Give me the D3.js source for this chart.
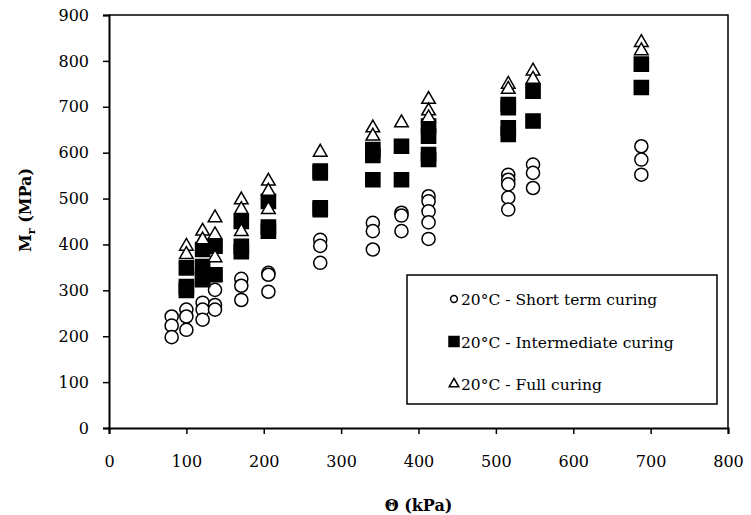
<!DOCTYPE html>
<html>
<head>
<meta charset="utf-8">
<script src="https://cdn.jsdelivr.net/npm/d3@7"></script>
<style>
  body { margin: 0; background: #fff; }
</style>
</head>
<body>
<div id="svg-container"></div>
<script>
/* series data: bulk stress (kPa) and resilient modulus (MPa) */
var shortX = [81, 81, 81, 100, 100, 100, 121, 121, 121, 137, 137, 137, 171, 171, 171, 206, 206, 206,
  273, 273, 273, 341, 341, 341, 378, 378, 378, 413, 413, 413, 413, 413, 516, 516, 516, 516, 516,
  548, 548, 548, 688, 688, 688];
var shortY = [243, 223, 198, 258, 243, 214, 273, 258, 236, 301, 268, 258, 325, 310, 279, 338, 334, 297,
  410, 397, 360, 447, 429, 389, 469, 463, 429, 505, 494, 472, 448, 412, 552, 541, 531, 502, 476,
  574, 556, 523, 614, 585, 552];

var interX = [100, 100, 100, 121, 121, 121, 121, 137, 137, 171, 171, 171, 206, 206, 206,
  273, 273, 273, 273, 341, 341, 341, 378, 378, 413, 413, 413, 413, 516, 516, 516, 516,
  548, 548, 688, 688];
var interY = [349, 308, 300, 389, 352, 330, 323, 396, 334, 450, 396, 384, 494, 438, 429,
  560, 556, 480, 476, 607, 594, 541, 614, 541, 658, 636, 596, 585, 705, 698, 654, 640,
  734, 669, 793, 742];

var fullX = [100, 100, 121, 121, 137, 137, 137, 171, 171, 171, 206, 206, 206, 273, 341, 341,
  378, 413, 413, 413, 516, 516, 548, 548, 688, 688];
var fullY = [396, 378, 429, 410, 458, 421, 371, 497, 476, 428, 538, 516, 476, 601, 654, 636,
  665, 716, 691, 676, 749, 738, 778, 760, 840, 822];

var xTicks = [0, 100, 200, 300, 400, 500, 600, 700, 800];
var yTicks = [0, 100, 200, 300, 400, 500, 600, 700, 800, 900];
var seriesNames = ["20\u00B0C - Short term curing", "20\u00B0C - Intermediate curing", "20\u00B0C - Full curing"];

var width = 751, height = 515;
var serif = "DejaVu Serif";
var plot = {left: 109, right: 728, top: 15, bottom: 428};

var svg = d3.select("#svg-container").append("svg")
    .attr("width", width)
    .attr("height", height)
    .attr("font-family", serif);

var x = d3.scaleLinear().domain([0, 800]).range([plot.left, plot.right]);
var y = d3.scaleLinear().domain([0, 900]).range([plot.bottom, plot.top]);

/* plot frame (top and right) */
svg.append("path")
    .attr("d", "M" + plot.left + "," + plot.top + "H" + plot.right + "V" + plot.bottom)
    .attr("fill", "none")
    .attr("stroke", "#000")
    .attr("stroke-width", 1.5);

/* axes */
var xAxis = svg.append("g")
    .attr("transform", "translate(0," + plot.bottom + ")")
    .call(d3.axisBottom(x).tickValues(xTicks).tickSize(6).tickPadding(22));
var yAxis = svg.append("g")
    .attr("transform", "translate(" + plot.left + ",0)")
    .call(d3.axisLeft(y).tickValues(yTicks).tickSize(6).tickPadding(14));
[xAxis, yAxis].forEach(function (g) {
  g.attr("font-family", serif).attr("font-size", 16);
  g.select(".domain").attr("stroke", "#000").attr("stroke-width", 2);
  g.selectAll(".tick line").attr("stroke", "#000").attr("stroke-width", 1.5);
  g.selectAll(".tick text").attr("fill", "#000");
});

/* axis titles */
svg.append("text")
    .attr("x", (plot.left + plot.right) / 2)
    .attr("y", 511)
    .attr("text-anchor", "middle")
    .attr("font-size", 16)
    .attr("font-weight", "bold")
    .text("\u0398 (kPa)");
var yTitle = svg.append("text")
    .attr("transform", "translate(31,210) rotate(-90)")
    .attr("text-anchor", "middle")
    .attr("font-size", 16)
    .attr("font-weight", "bold");
yTitle.append("tspan").text("M");
yTitle.append("tspan").attr("font-size", 11).attr("dy", 4).text("r");
yTitle.append("tspan").attr("dy", -4).text(" (MPa)");

/* markers */
var circleSym = d3.symbol().type(d3.symbolCircle).size(135);
var squareSym = d3.symbol().type(d3.symbolSquare).size(200);
var triSym = d3.symbol().type(d3.symbolTriangle).size(80);

function drawSeries(xs, ys, sym, filled) {
  svg.append("g").selectAll("path")
      .data(d3.range(xs.length))
      .enter()
      .append("path")
      .attr("d", sym)
      .attr("transform", function (i) {
        return "translate(" + x(xs[i]) + "," + y(ys[i]) + ")";
      })
      .attr("fill", filled ? "#000" : "#fff")
      .attr("stroke", "#000")
      .attr("stroke-width", 1.5);
}
drawSeries(shortX, shortY, circleSym, false);
drawSeries(interX, interY, squareSym, true);
drawSeries(fullX, fullY, triSym, false);

/* legend */
var legend = svg.append("g");
legend.append("rect")
    .attr("x", 407).attr("y", 275)
    .attr("width", 310).attr("height", 129)
    .attr("fill", "#fff")
    .attr("stroke", "#000")
    .attr("stroke-width", 1.5);
var legendSyms = [
  {sym: d3.symbol().type(d3.symbolCircle).size(36), fill: "#fff"},
  {sym: d3.symbol().type(d3.symbolSquare).size(100), fill: "#000"},
  {sym: d3.symbol().type(d3.symbolTriangle).size(40), fill: "#fff"}
];
seriesNames.forEach(function (name, i) {
  var cy = 299 + i * 42.5;
  legend.append("path")
      .attr("d", legendSyms[i].sym)
      .attr("transform", "translate(454," + cy + ")")
      .attr("fill", legendSyms[i].fill)
      .attr("stroke", "#000")
      .attr("stroke-width", 1.5);
  legend.append("text")
      .attr("x", 461)
      .attr("y", cy + 6)
      .attr("font-size", 15.5)
      .text(name);
});
</script>
</body>
</html>
